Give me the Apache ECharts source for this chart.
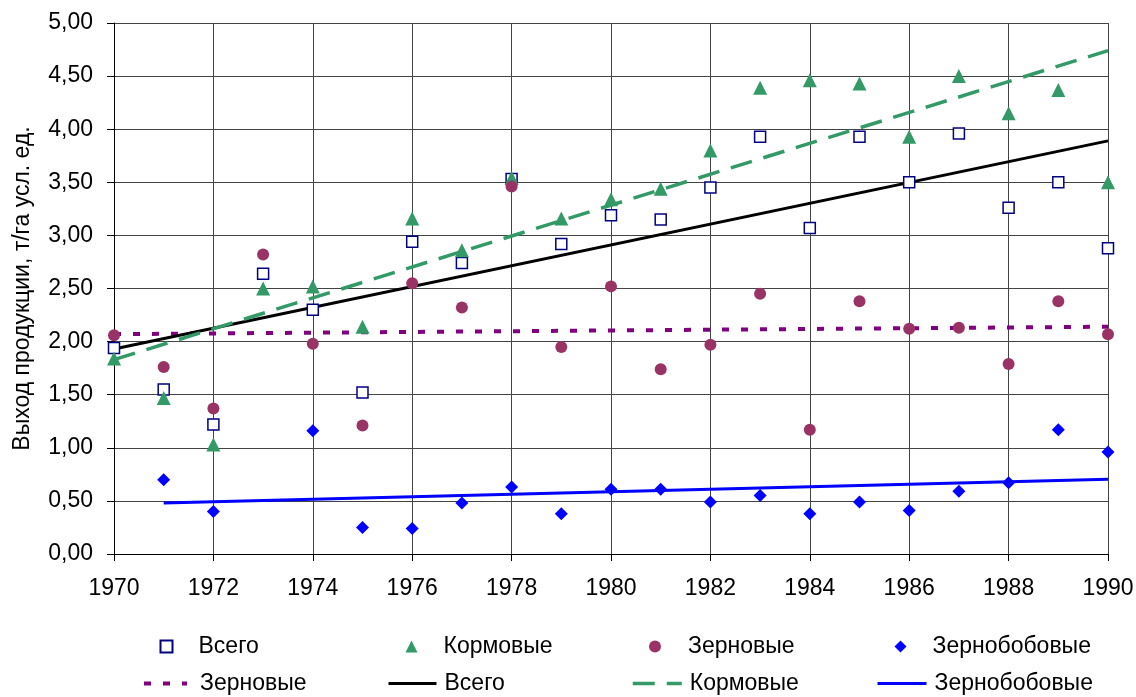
<!DOCTYPE html>
<html>
<head>
<meta charset="utf-8">
<script src="https://cdn.jsdelivr.net/npm/echarts@6/dist/echarts.min.js"></script>
<style>
html, body { margin: 0; padding: 0; background: #fff; }
#chart { width: 1136px; height: 697px; }
</style>
</head>
<body>
<div id="chart"></div>
<script>
// годы наблюдений
var years = [1970, 1971, 1972, 1973, 1974, 1975, 1976, 1977, 1978, 1979, 1980,
	1981, 1982, 1983, 1984, 1985, 1986, 1987, 1988, 1989, 1990];

// выход продукции, т/га усл. ед.
var vsego = [1.94, 1.55, 1.22, 2.64, 2.30, 1.52, 2.94, 2.74, 3.53, 2.92, 3.19,
	3.15, 3.45, 3.93, 3.07, 3.93, 3.50, 3.96, 3.26, 3.50, 2.88];
var kormovye = [1.84, 1.47, 1.03, 2.50, 2.52, 2.14, 3.16, 2.86, 3.54, 3.16, 3.34,
	3.44, 3.80, 4.39, 4.46, 4.43, 3.93, 4.50, 4.15, 4.37, 3.50];
var zernovye = [2.06, 1.76, 1.37, 2.82, 1.98, 1.21, 2.55, 2.32, 3.46, 1.95, 2.52,
	1.74, 1.97, 2.45, 1.17, 2.38, 2.12, 2.13, 1.79, 2.38, 2.07];
var zernobobovye = [null, 0.70, 0.40, null, 1.16, 0.25, 0.24, 0.48, 0.63, 0.38, 0.61,
	0.61, 0.49, 0.55, 0.38, 0.49, 0.41, 0.59, 0.67, 1.17, 0.96];

// линии тренда: начало и конец
var trendZernYears = [1970, 1990];
var trendZern = [2.07, 2.14];
var trendVsegoYears = [1970, 1990];
var trendVsego = [1.93, 3.89];
var trendKormYears = [1970, 1990];
var trendKorm = [1.83, 4.74];
var trendBobYears = [1971, 1990];
var trendBob = [0.48, 0.705];

var yTicks = [0, 0.5, 1, 1.5, 2, 2.5, 3, 3.5, 4, 4.5, 5];

function pairs(xs, ys) {
	var out = [];
	for (var i = 0; i < xs.length; i++) {
		if (ys[i] != null) out.push([xs[i], ys[i]]);
	}
	return out;
}

var FONT = 'Liberation Sans, Arial, sans-serif';
var SUFFIX = ' (тренд)';

// легенда: каждая позиция отдельно, чтобы стояли как в оригинале
function legendItem(name, left, top, w, h, padLeft, lineWidth) {
	var lg = {
		data: [name],
		left: left,
		top: top,
		padding: 0,
		itemWidth: w,
		itemHeight: h,
		selectedMode: false,
		formatter: function (n) { return n.replace(SUFFIX, ''); },
		textStyle: { fontFamily: FONT, fontSize: 23, color: '#000', padding: [0, 0, 0, padLeft] }
	};
	if (lineWidth) {
		// у линий тренда значок без маркера
		lg.itemStyle = { opacity: 0 };
		lg.lineStyle = { width: lineWidth };
	}
	return lg;
}

var chart = echarts.init(document.getElementById('chart'));

chart.setOption({
	animation: false,
	backgroundColor: '#fff',
	textStyle: { fontFamily: FONT },
	grid: { left: 114, right: 28, top: 23, bottom: 143, outerBoundsMode: 'none' },
	legend: [
		legendItem('Всего', 159.5, 635, 12, 12, 21),
		legendItem('Кормовые', 405.5, 635, 12, 12, 21),
		legendItem('Зерновые', 649, 635, 12, 12, 22),
		legendItem('Зернобобовые', 894.5, 635, 12, 12, 21),
		legendItem('Зерновые' + SUFFIX, 142, 672, 43, 12, 8, 4),
		legendItem('Всего' + SUFFIX, 387, 672, 48, 12, 3, 3),
		legendItem('Кормовые' + SUFFIX, 631, 672, 49, 12, 3, 3.5),
		legendItem('Зернобобовые' + SUFFIX, 876, 672, 49, 12, 3, 3)
	],
	xAxis: {
		type: 'value',
		min: 1970,
		max: 1990,
		interval: 2,
		axisLine: { show: true, lineStyle: { color: '#000', width: 1 } },
		axisTick: { show: true, inside: false, length: 7, lineStyle: { color: '#000' } },
		axisLabel: { fontSize: 23, color: '#000', margin: 23, formatter: function (v) { return String(v); } },
		splitLine: { show: true, lineStyle: { color: '#444', width: 1 } }
	},
	yAxis: {
		type: 'value',
		min: yTicks[0],
		max: yTicks[yTicks.length - 1],
		interval: 0.5,
		name: 'Выход продукции, т/га усл. ед.',
		nameLocation: 'middle',
		nameGap: 80,
		nameTextStyle: { fontSize: 23, color: '#000', fontFamily: FONT },
		axisLine: { show: true, lineStyle: { color: '#000', width: 1 } },
		axisTick: { show: true, inside: false, length: 7, lineStyle: { color: '#000' } },
		axisLabel: {
			fontSize: 23, color: '#000', margin: 21,
			formatter: function (v) { return v.toFixed(2).replace('.', ','); }
		},
		splitLine: { show: true, lineStyle: { color: '#444', width: 1 } }
	},
	series: [
		{
			name: 'Зерновые' + SUFFIX, type: 'line', data: pairs(trendZernYears, trendZern),
			symbol: 'none', z: 3,
			lineStyle: { color: '#800080', width: 4, type: [7, 12] }, itemStyle: { color: '#800080' }
		},
		{
			name: 'Всего' + SUFFIX, type: 'line', data: pairs(trendVsegoYears, trendVsego),
			symbol: 'none', z: 3,
			lineStyle: { color: '#000', width: 3 }, itemStyle: { color: '#000' }
		},
		{
			name: 'Кормовые' + SUFFIX, type: 'line', data: pairs(trendKormYears, trendKorm),
			symbol: 'none', z: 3,
			lineStyle: { color: '#339966', width: 3.5, type: [22, 12] }, itemStyle: { color: '#339966' }
		},
		{
			name: 'Зернобобовые' + SUFFIX, type: 'line', data: pairs(trendBobYears, trendBob),
			symbol: 'none', z: 3,
			lineStyle: { color: '#0000ff', width: 3 }, itemStyle: { color: '#0000ff' }
		},
		{
			name: 'Всего', type: 'scatter', data: pairs(years, vsego),
			symbol: 'rect', symbolSize: 11, z: 4,
			itemStyle: { color: '#fff', borderColor: '#000080', borderWidth: 1.5, opacity: 1 }
		},
		{
			name: 'Кормовые', type: 'scatter', data: pairs(years, kormovye),
			symbol: 'triangle', symbolSize: 14, z: 4,
			itemStyle: { color: '#339966', opacity: 1 }
		},
		{
			name: 'Зерновые', type: 'scatter', data: pairs(years, zernovye),
			symbol: 'circle', symbolSize: 12, z: 4,
			itemStyle: { color: '#993366', opacity: 1 }
		},
		{
			name: 'Зернобобовые', type: 'scatter', data: pairs(years, zernobobovye),
			symbol: 'diamond', symbolSize: 13, z: 4,
			itemStyle: { color: '#0000ff', opacity: 1 }
		}
	]
});
</script>
</body>
</html>
